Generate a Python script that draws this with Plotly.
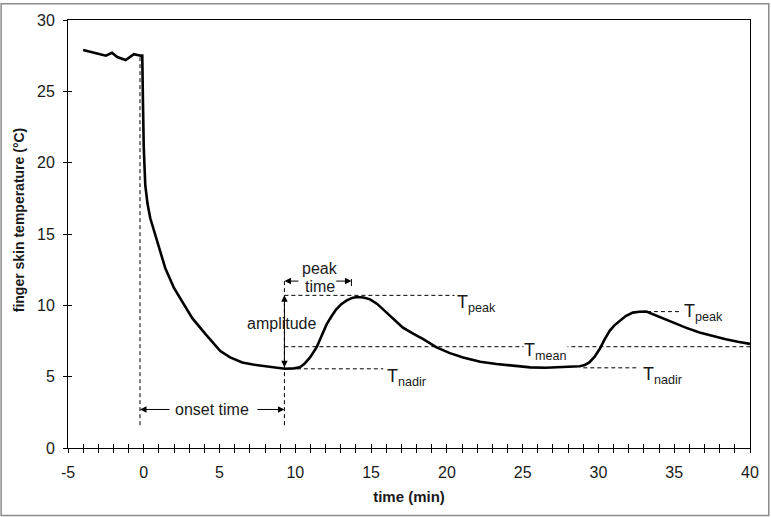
import plotly.graph_objects as go

# ---- data ----
time_min = [-4.0, -3.8, -3.5, -3.0, -2.5, -2.1, -1.75, -1.2, -0.65, -0.2, -0.1, -0.05, 0.0, 0.1,
            0.25, 0.43, 0.76, 1.1, 1.42, 2.0, 2.52, 3.2, 4.06, 5.05, 5.7, 6.5, 7.2, 7.9, 8.6, 9.3,
            9.9, 10.3, 10.6, 10.97, 11.4, 11.75, 12.07, 12.4, 12.7, 13.05, 13.4, 13.75, 14.05, 14.5,
            14.93, 15.4, 15.8, 16.4, 17.1, 17.8, 18.44, 19.32, 20.2, 21.07, 22.2, 23.27, 24.4,
            25.5, 26.5, 27.5, 28.76, 29.1, 29.4, 29.75, 30.08, 30.4, 30.74, 31.05, 31.4, 31.8,
            32.27, 32.7, 33.16, 33.6, 34.2, 34.9, 35.8, 36.67, 37.5, 38.4, 39.2, 40.0]
temp_c = [27.9, 27.85, 27.8, 27.65, 27.5, 27.7, 27.4, 27.2, 27.6, 27.5, 27.5, 24.0, 21.0, 18.4,
          17.1, 16.1, 14.9, 13.8, 12.6, 11.2, 10.3, 9.1, 8.0, 6.8, 6.35, 6.0, 5.85, 5.75, 5.6, 5.55,
          5.58, 5.66, 5.9, 6.35, 7.05, 7.9, 8.68, 9.25, 9.72, 10.1, 10.35, 10.52, 10.58, 10.55,
          10.42, 10.1, 9.72, 9.1, 8.44, 8.0, 7.63, 7.05, 6.65, 6.35, 6.05, 5.89, 5.75,
          5.65, 5.63, 5.66, 5.73, 5.82, 6.0, 6.4, 6.94, 7.6, 8.21, 8.6, 8.9, 9.25,
          9.49, 9.55, 9.56, 9.37, 9.08, 8.79, 8.42, 8.1, 7.85, 7.63, 7.45, 7.3]

x_tick_vals = [-5, 0, 5, 10, 15, 20, 25, 30, 35, 40]
x_tick_text = ["-5", "0", "5", "10", "15", "20", "25", "30", "35", "40"]
y_tick_vals = [0, 5, 10, 15, 20, 25, 30]

# characteristic values
t_onset_start = -0.25
t_onset_end = 9.28
t_peak_end = 13.7
T_peak1 = 10.7
T_nadir1 = 5.55
T_mean = 7.1
T_peak2 = 9.56
T_nadir2 = 5.62
peak1_span = [9.28, 20.5]
nadir1_span = [10.1, 15.8]
mean_span = [9.28, 40.0]
peak2_span = [33.2, 35.35]
nadir2_span = [29.0, 32.7]
onset_line_low = 1.6
onset_line_top1 = 27.5
onset_line_top2 = 11.85
peaktime_arrow_T = 11.7
onset_arrow_T = 2.7

FONT = "Liberation Sans, Arial, sans-serif"
DASH = "4px,3px"
TXT = "#1a1a1a"

fig = go.Figure()

def dashed(xs, ys):
    fig.add_trace(go.Scatter(x=xs, y=ys, mode="lines", hoverinfo="skip", showlegend=False,
                             line=dict(color="black", width=1, dash=DASH)))

dashed(peak1_span, [T_peak1, T_peak1])
dashed(nadir1_span, [T_nadir1, T_nadir1])
dashed(mean_span, [T_mean, T_mean])
dashed(peak2_span, [T_peak2, T_peak2])
dashed(nadir2_span, [T_nadir2, T_nadir2])
dashed([t_onset_start, t_onset_start], [onset_line_low, onset_line_top1])
dashed([t_onset_end, t_onset_end], [onset_line_low, onset_line_top2])

# small end bar of peak time arrow
fig.add_trace(go.Scatter(x=[t_peak_end, t_peak_end], y=[11.35, 11.85], mode="lines",
                         hoverinfo="skip", showlegend=False, line=dict(color="black", width=1)))

# main curve
fig.add_trace(go.Scatter(x=time_min, y=temp_c, mode="lines", showlegend=False,
                         line=dict(color="black", width=2.6)))

# invisible trace on overlay axes (for crossing ticks)
fig.add_trace(go.Scatter(x=time_min, y=temp_c, mode="lines", xaxis="x2", yaxis="y2",
                         showlegend=False, hoverinfo="skip", line=dict(width=0), opacity=0))

ann_font = dict(family=FONT, size=16, color=TXT)
T_font = dict(family=FONT, size=18, color=TXT)

def arrow(x, y, ax, ay, both=False):
    fig.add_annotation(x=x, y=y, ax=ax, ay=ay, xref="x", yref="y", axref="x", ayref="y",
                       text="", showarrow=True, arrowhead=2, arrowsize=1.3, arrowwidth=1,
                       arrowcolor="black", standoff=0, startstandoff=0,
                       arrowside="end+start" if both else "end", startarrowhead=2,
                       startarrowsize=1.3)

# onset time
arrow(t_onset_start, onset_arrow_T, 1.8, onset_arrow_T)
arrow(t_onset_end, onset_arrow_T, 7.4, onset_arrow_T)
fig.add_annotation(x=4.5, y=onset_arrow_T, text="onset time", showarrow=False, font=ann_font)

# peak time
arrow(t_onset_end, peaktime_arrow_T, 10.3, peaktime_arrow_T)
arrow(t_peak_end, peaktime_arrow_T, 12.6, peaktime_arrow_T)
fig.add_annotation(x=11.6, y=12.6, text="peak", showarrow=False, font=ann_font)
fig.add_annotation(x=11.6, y=11.35, text="time", showarrow=False, font=ann_font)

# amplitude
arrow(t_onset_end, T_peak1, t_onset_end, T_nadir1, both=True)
fig.add_annotation(x=9.1, y=8.72, text="amplitude", showarrow=False, font=ann_font)

# T labels
def tlabel(x, y, sub, bg=None):
    fig.add_annotation(x=x, y=y, text="T<sub>" + sub + "</sub>", showarrow=False,
                       xanchor="left", yanchor="middle", font=T_font,
                       bgcolor=bg, borderpad=0)

tlabel(20.6, 10.1, "peak")
tlabel(16.0, 4.95, "nadir")
tlabel(25.0, 6.75, "mean", bg="white")
tlabel(35.6, 9.5, "peak")
tlabel(32.9, 5.05, "nadir")

# y axis title
fig.add_annotation(xref="paper", yref="paper", x=-0.0724, y=0.5336,
                   xanchor="center", yanchor="middle",
                   text="<b>finger skin temperature (°C)</b>", textangle=-90, showarrow=False,
                   font=dict(family=FONT, size=14, color=TXT))

# outer grey border
fig.add_shape(type="rect", xref="paper", yref="paper", x0=-0.0980, x1=1.0275, y0=-0.1575, y1=1.0380,
              line=dict(color="#8a8a8a", width=1.5), layer="below")

fig.update_layout(
    width=771, height=517,
    margin=dict(l=67.5, r=20, t=17, b=69),
    paper_bgcolor="white", plot_bgcolor="white",
    font=dict(family=FONT, size=16, color=TXT),
    xaxis=dict(range=[-5, 40], tickmode="array", tickvals=x_tick_vals, ticktext=x_tick_text,
               ticks="outside", ticklen=4, tickwidth=1, tickcolor="black",
               minor=dict(dtick=1, tick0=0, ticks="outside", ticklen=4, tickwidth=1, tickcolor="black"),
               showline=True, linecolor="black", linewidth=1, mirror=True,
               showgrid=False, zeroline=False, fixedrange=True, ticklabelstandoff=6,
               tickfont=dict(family=FONT, size=16, color=TXT),
               title=dict(text="<b>time (min)</b>", font=dict(family=FONT, size=15, color=TXT),
                          standoff=11)),
    yaxis=dict(range=[0, 30], tickmode="array", tickvals=y_tick_vals,
               ticks="outside", ticklen=4, tickwidth=1, tickcolor="black",
               showline=True, linecolor="black", linewidth=1, mirror=True,
               showgrid=False, zeroline=False, fixedrange=True, ticklabelstandoff=5,
               tickfont=dict(family=FONT, size=16, color=TXT)),
    xaxis2=dict(range=[-5, 40], overlaying="x", anchor="y", side="bottom",
                tickmode="linear", tick0=0, dtick=1, ticks="inside", ticklen=4, tickwidth=1,
                tickcolor="black", showticklabels=False, showline=False, showgrid=False,
                zeroline=False, fixedrange=True),
    yaxis2=dict(range=[0, 30], overlaying="y", anchor="x", side="left",
                tickmode="linear", tick0=0, dtick=5, ticks="inside", ticklen=4, tickwidth=1,
                tickcolor="black", showticklabels=False, showline=False, showgrid=False,
                zeroline=False, fixedrange=True),
)

fig.write_html("out.html", post_script="document.body.style.margin='0';",
               config={"displayModeBar": False})
